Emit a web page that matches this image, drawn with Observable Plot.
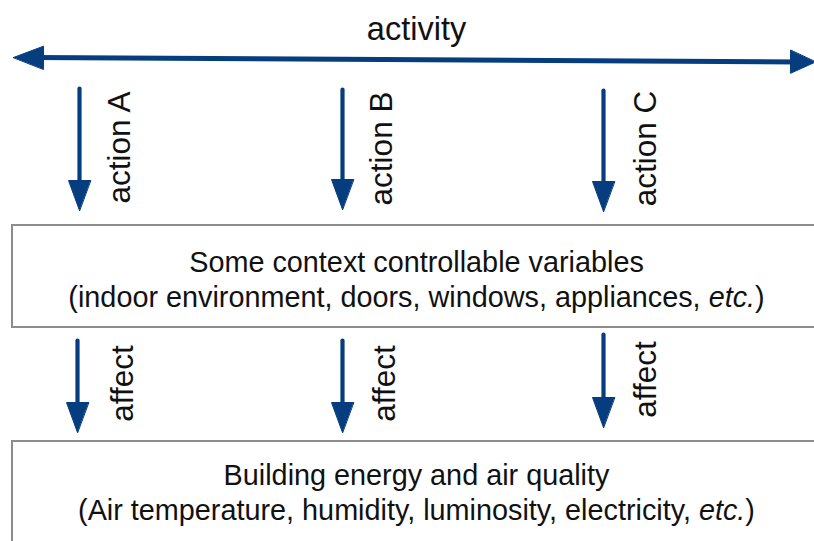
<!DOCTYPE html>
<html><head><meta charset="utf-8">
<script src="https://cdn.jsdelivr.net/npm/d3@7"></script>
<script src="https://cdn.jsdelivr.net/npm/@observablehq/plot@0.6"></script>
<style>html,body{margin:0;padding:0;background:#fff;overflow:hidden}</style>
</head><body><div id="chart"></div>
<script>
// ---- content (text of the diagram) ----
const headerLabel = ["activity"];
const actionLabels = ["action A", "action B", "action C"];
const affectLabels = ["affect", "affect", "affect"];
const contextLines = ["Some context controllable variables", "(indoor environment, doors, windows, appliances, etc.)"];
const outcomeLines = ["Building energy and air quality", "(Air temperature, humidity, luminosity, electricity, etc.)"];

// ---- layout (diagram coordinates, pixel space) ----
const W = 814, H = 541;
const blue = "#063d7e";
const boxStroke = "#8c8c8c";
const font = "Liberation Sans, Arial, Helvetica, sans-serif";

const activityArrow = {x1: 13, y1: 57, x2: 815, y2: 61.5};
const actionX = [79, 342, 603];
const actionTop = [88, 89, 90];
const actionTip = [210, 209, 211];
const affectX = [77, 342, 603];
const affectTop = [340, 340, 334];
const affectTip = [432, 432, 427];
const actionLabelX = [119, 381, 645], actionLabelY = [147, 148, 148];
const affectLabelX = [122, 384, 645], affectLabelY = [383, 383, 379];
const boxes = [{x1: 12, x2: 840, y1: 225, y2: 327}, {x1: 12, x2: 840, y1: 441, y2: 600}];
const contextY = [262, 297];
const outcomeY = [475, 510];
const textCenterX = 416;

// build arrow list
const arrows = [];
actionX.forEach((x, i) => arrows.push({x1: x, y1: actionTop[i], x2: x, y2: actionTip[i], w: 4.2, L: 30, hw: 11}));
affectX.forEach((x, i) => arrows.push({x1: x, y1: affectTop[i], x2: x, y2: affectTip[i], w: 4.2, L: 30, hw: 11}));

function head(id, tx, ty, fx, fy, L, hw) {
  const dx = tx - fx, dy = ty - fy, n = Math.hypot(dx, dy), ux = dx / n, uy = dy / n;
  const bx = tx - ux * L, by = ty - uy * L;
  return [{id, x: tx, y: ty}, {id, x: bx - uy * hw, y: by + ux * hw}, {id, x: bx + uy * hw, y: by - ux * hw}];
}
const heads = [];
arrows.forEach((a, i) => heads.push(...head("a" + i, a.x2, a.y2, a.x1, a.y1, a.L, a.hw)));
const A = activityArrow;
heads.push(...head("left", A.x1, A.y1, A.x2, A.y2, 30, 11.5));
heads.push(...head("right", A.x2, A.y2, A.x1, A.y1, 25, 11.5));

const shafts = arrows.map(a => ({x1: a.x1, y1: a.y1, x2: a.x2, y2: a.y2 - 15, w: a.w}));
shafts.push({x1: A.x1 + 20, y1: A.y1 + 0.1, x2: A.x2 - 15, y2: A.y2 - 0.1, w: 5});

const plot = Plot.plot({
  width: W, height: H, margin: 0,
  style: {fontFamily: font, background: "#fff", overflow: "hidden"},
  x: {domain: [0, W], range: [0, W], axis: null},
  y: {domain: [0, H], range: [0, H], axis: null},
  marks: [
    Plot.rect(boxes, {x1: "x1", x2: "x2", y1: "y1", y2: "y2", fill: "none", stroke: boxStroke, strokeWidth: 2, clip: true}),
    Plot.link(shafts, {x1: "x1", y1: "y1", x2: "x2", y2: "y2", stroke: blue, strokeWidth: d => d.w, strokeLinecap: "round"}),
    Plot.line(heads, {x: "x", y: "y", z: "id", fill: blue, stroke: blue, strokeWidth: 1, curve: "linear-closed", clip: true}),
    Plot.text(headerLabel, {x: () => textCenterX, y: () => 29, text: d => d, fontSize: 32.5, fill: "#111"}),
    Plot.text(actionLabels, {x: (d, i) => actionLabelX[i], y: (d, i) => actionLabelY[i], text: d => d, rotate: -90, fontSize: 31.5, fill: "#111"}),
    Plot.text(affectLabels, {x: (d, i) => affectLabelX[i], y: (d, i) => affectLabelY[i], text: d => d, rotate: -90, fontSize: 31.5, fill: "#111"}),
    Plot.text(contextLines, {x: () => textCenterX, y: (d, i) => contextY[i], text: d => d, fontSize: 28.8, fill: "#111"}),
    Plot.text(outcomeLines, {x: () => textCenterX, y: (d, i) => outcomeY[i], text: d => d, fontSize: 28.8, fill: "#111"})
  ]
});

// italicise "etc."
d3.select(plot).selectAll("text").each(function () {
  const t = this.textContent;
  const k = t.indexOf("etc.");
  if (k < 0) return;
  const el = d3.select(this);
  el.text(null);
  el.append("tspan").text(t.slice(0, k));
  el.append("tspan").attr("font-style", "italic").text("etc.");
  el.append("tspan").text(t.slice(k + 4));
});

document.getElementById("chart").appendChild(plot);
</script>
</body></html>
